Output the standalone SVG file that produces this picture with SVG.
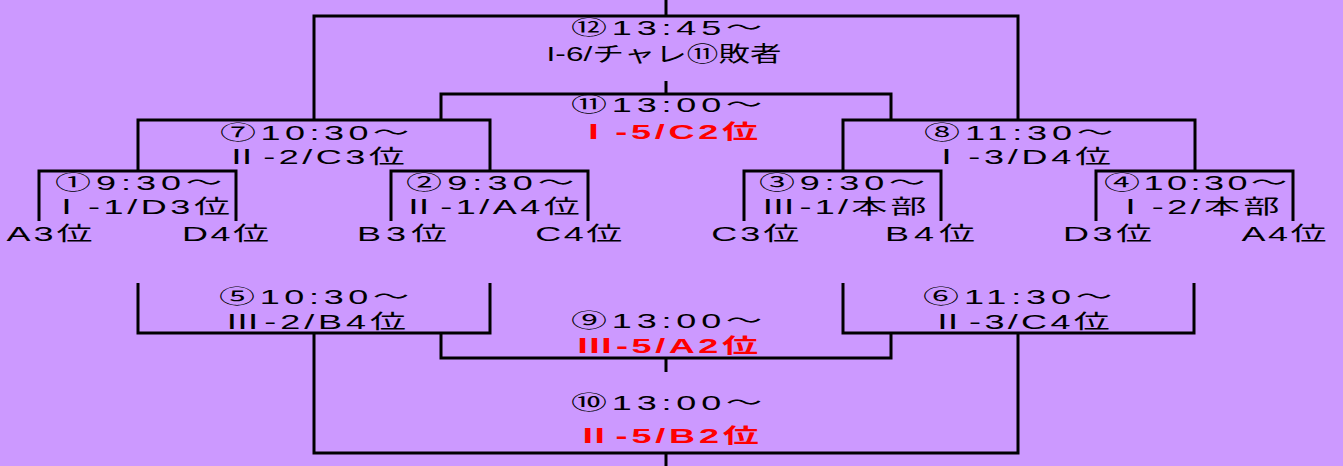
<svg xmlns="http://www.w3.org/2000/svg" width="1343" height="466" viewBox="0 0 1343 466">
<style>
.c{fill:none;stroke:#000;stroke-width:3;stroke-linejoin:miter}
text{font-family:"Liberation Sans","Noto Sans CJK JP",sans-serif;font-size:20px;fill:#000}
.r{fill:#FF0000;font-weight:bold}
</style>
<rect x="0" y="0" width="1343" height="466" fill="#CC99FF"/>
<g id="connectors">
<path class="c" d="M666,0V16"/>
<path class="c" d="M314,120V16H1018V120"/>
<path class="c" d="M666,81V94"/>
<path class="c" d="M441,120V94H891V120"/>
<path class="c" d="M138,171V120H490V171"/>
<path class="c" d="M843,171V120H1195V171"/>
<path class="c" d="M39,221V171H236V221"/>
<path class="c" d="M391,221V171H588V221"/>
<path class="c" d="M744,221V171H941V221"/>
<path class="c" d="M1096,221V171H1293V221"/>
<path class="c" d="M138,283V333H490V283"/>
<path class="c" d="M843,283V333H1194V283"/>
<path class="c" d="M441,333V358H891V333"/>
<path class="c" d="M666,358V372"/>
<path class="c" d="M314,333V453H1018V333"/>
<path class="c" d="M666,453V466"/>
</g>
<g id="m12">
<text transform="matrix(1.8 0 0 1 571 35)" textLength="106.11" lengthAdjust="spacing">⑫13:45～</text>
<text transform="matrix(1.5 0 0 1 546.5 61)" textLength="156.7" lengthAdjust="spacing" style="font-size:21px">I-6/チャレ⑪敗者</text>
</g>
<g id="m11">
<text transform="matrix(1.8 0 0 1 571 112)" textLength="106.11" lengthAdjust="spacing">⑪13:00～</text>
<text class="r" transform="matrix(1.8 0 0 1 575.4 139)" textLength="101.44" lengthAdjust="spacing">Ⅰ-5/C2位</text>
</g>
<g id="m7">
<text transform="matrix(1.8 0 0 1 220 140)" textLength="105" lengthAdjust="spacing">⑦10:30～</text>
<text transform="matrix(1.8 0 0 1 223.8 164)" textLength="100.56" lengthAdjust="spacing">Ⅱ-2/C3位</text>
</g>
<g id="m8">
<text transform="matrix(1.8 0 0 1 924 140)" textLength="105" lengthAdjust="spacing">⑧11:30～</text>
<text transform="matrix(1.8 0 0 1 928.4 164)" textLength="101.44" lengthAdjust="spacing">Ⅰ-3/D4位</text>
</g>
<g id="m1">
<text transform="matrix(1.8 0 0 1 55 190)" textLength="92.78" lengthAdjust="spacing">①9:30～</text>
<text transform="matrix(1.8 0 0 1 48.4 214)" textLength="100.89" lengthAdjust="spacing">Ⅰ-1/D3位</text>
</g>
<g id="m2">
<text transform="matrix(1.8 0 0 1 406 190)" textLength="93.33" lengthAdjust="spacing">②9:30～</text>
<text transform="matrix(1.8 0 0 1 400.8 214)" textLength="99.44" lengthAdjust="spacing">Ⅱ-1/A4位</text>
</g>
<g id="m3">
<text transform="matrix(1.8 0 0 1 759 190)" textLength="92.22" lengthAdjust="spacing">③9:30～</text>
<text transform="matrix(1.8 0 0 1 760.4 214)" textLength="92.22" lengthAdjust="spacing">Ⅲ-1/本部</text>
</g>
<g id="m4">
<text transform="matrix(1.8 0 0 1 1104 190)" textLength="101.67" lengthAdjust="spacing">④10:30～</text>
<text transform="matrix(1.8 0 0 1 1112.4 214)" textLength="92.78" lengthAdjust="spacing">Ⅰ-2/本部</text>
</g>
<g id="teams">
<text transform="matrix(1.8 0 0 1 6.5 241)" textLength="47.78" lengthAdjust="spacing">A3位</text>
<text transform="matrix(1.8 0 0 1 182 241)" textLength="48.33" lengthAdjust="spacing">D4位</text>
<text transform="matrix(1.8 0 0 1 357 241)" textLength="50" lengthAdjust="spacing">B3位</text>
<text transform="matrix(1.8 0 0 1 535.3 241)" textLength="48.33" lengthAdjust="spacing">C4位</text>
<text transform="matrix(1.8 0 0 1 711.3 241)" textLength="48.89" lengthAdjust="spacing">C3位</text>
<text transform="matrix(1.8 0 0 1 885 241)" textLength="50" lengthAdjust="spacing">B4位</text>
<text transform="matrix(1.8 0 0 1 1063 241)" textLength="49.44" lengthAdjust="spacing">D3位</text>
<text transform="matrix(1.8 0 0 1 1241.5 241)" textLength="47.22" lengthAdjust="spacing">A4位</text>
</g>
<g id="m5">
<text transform="matrix(1.8 0 0 1 219 304)" textLength="105.56" lengthAdjust="spacing">⑤10:30～</text>
<text transform="matrix(1.8 0 0 1 224.4 329)" textLength="100.89" lengthAdjust="spacing">Ⅲ-2/B4位</text>
</g>
<g id="m6">
<text transform="matrix(1.8 0 0 1 923 304)" textLength="105" lengthAdjust="spacing">⑥11:30～</text>
<text transform="matrix(1.8 0 0 1 929.8 329)" textLength="100" lengthAdjust="spacing">Ⅱ-3/C4位</text>
</g>
<g id="m9">
<text transform="matrix(1.8 0 0 1 571 328)" textLength="106.11" lengthAdjust="spacing">⑨13:00～</text>
<text class="r" transform="matrix(1.8 0 0 1 576.4 353)" textLength="100.89" lengthAdjust="spacing">Ⅲ-5/A2位</text>
</g>
<g id="m10">
<text transform="matrix(1.8 0 0 1 571 410)" textLength="106.11" lengthAdjust="spacing">⑩13:00～</text>
<text class="r" transform="matrix(1.8 0 0 1 575.8 443)" textLength="101.67" lengthAdjust="spacing">Ⅱ-5/B2位</text>
</g>
</svg>
